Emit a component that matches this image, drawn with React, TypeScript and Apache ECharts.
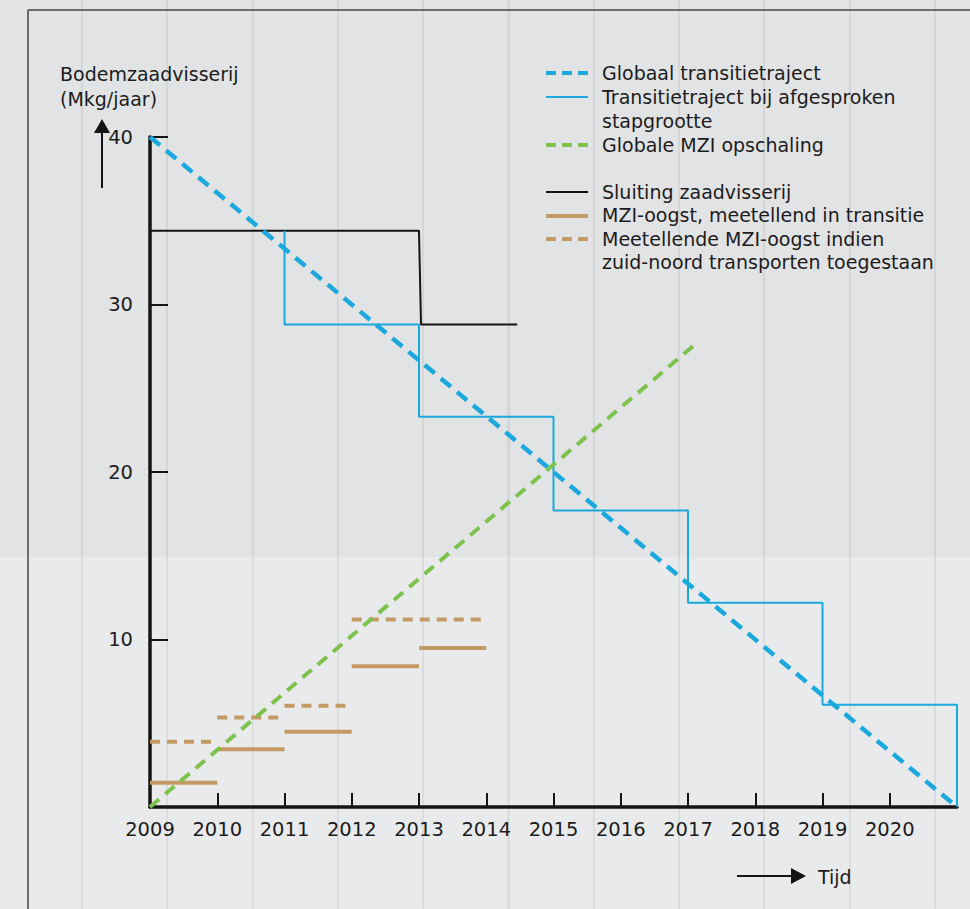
import React, { useEffect, useRef } from "react";
import * as echarts from "echarts";

// ---- data ----
const yearTicks = [2010, 2011, 2012, 2013, 2014, 2015, 2016, 2017, 2018, 2019, 2020];
const yearLabels = [2009, 2010, 2011, 2012, 2013, 2014, 2015, 2016, 2017, 2018, 2019, 2020];
const valueTicks = [10, 20, 30, 40];

const globalTrajectory = [[2009, 40], [2021, 0]];
const stepTrajectory = [
  [2011, 34.4], [2013, 28.8], [2015, 23.3], [2017, 17.7], [2019, 12.2], [2021, 6.1], [2021, 0],
];
const mziScaling = [[2009, 0], [2017.13, 27.7]];
const closure = [[2009, 34.4], [2013, 34.4], [2013.03, 28.8], [2014.46, 28.8]];

const harvestStart = [2009, 2010, 2011, 2012, 2013];
const harvestEnd = [2010, 2011, 2012, 2013, 2014];
const harvestValue = [1.45, 3.45, 4.5, 8.4, 9.5];

const transportStart = [2009, 2010, 2011, 2012];
const transportEnd = [2010, 2011, 2012, 2014];
const transportValue = [3.9, 5.35, 6.05, 11.2];

const legendGroup1 = [
  "Globaal transitietraject",
  "Transitietraject bij afgesproken",
  "stapgrootte",
  "Globale MZI opschaling",
];
const legendGroup2 = [
  "Sluiting zaadvisserij",
  "MZI-oogst, meetellend in transitie",
  "Meetellende MZI-oogst indien",
  "zuid-noord transporten toegestaan",
];

const BLUE = "#1ba8dc";
const GREEN = "#7cc24c";
const BROWN = "#c39a64";
const BLACK = "#141414";
const TEXT = "#1c1c1c";
const FONT = '"DejaVu Sans", "Open Sans", sans-serif';

export default function App() {
  const ref = useRef<HTMLDivElement>(null);

  useEffect(() => {
    if (!ref.current) return;
    const chart = echarts.init(ref.current, undefined, { renderer: "svg" });

    const seg = (name: string, a: number, b: number, v: number, dashed: boolean) => ({
      name,
      type: "line",
      data: [[a, v], [b, v]],
      symbol: "none",
      z: 3,
      lineStyle: { color: BROWN, width: 4, type: dashed ? [10, 7] : "solid", cap: "butt" },
    });

    const series: any[] = [
      ...harvestValue.map((v, i) => seg("MZI-oogst", harvestStart[i], harvestEnd[i], v, false)),
      ...transportValue.map((v, i) => seg("Meetellende MZI-oogst", transportStart[i], transportEnd[i], v, true)),
      {
        name: "Sluiting zaadvisserij",
        type: "line",
        data: closure,
        symbol: "none",
        z: 4,
        lineStyle: { color: BLACK, width: 2 },
      },
      {
        name: "Transitietraject bij afgesproken stapgrootte",
        type: "line",
        step: "start",
        data: stepTrajectory,
        symbol: "none",
        z: 5,
        lineStyle: { color: BLUE, width: 2 },
      },
      {
        name: "Globaal transitietraject",
        type: "line",
        data: globalTrajectory,
        symbol: "none",
        z: 6,
        lineStyle: { color: BLUE, width: 4.5, type: [13, 8], cap: "butt" },
      },
      {
        name: "Globale MZI opschaling",
        type: "line",
        data: mziScaling,
        symbol: "none",
        z: 7,
        lineStyle: { color: GREEN, width: 4, type: [12, 8], cap: "butt" },
      },
    ];

    const legendIconX1 = 546;
    const legendIconX2 = 588;
    const legendTextX = 602;
    const rowY = [73, 97, 121, 145, 192, 216, 239, 262];
    const icons: any[] = [
      { row: 0, color: BLUE, width: 4, dash: [10, 6] },
      { row: 1, color: BLUE, width: 2, dash: null },
      { row: 3, color: GREEN, width: 4, dash: [10, 6] },
      { row: 4, color: BLACK, width: 2, dash: null },
      { row: 5, color: BROWN, width: 4, dash: null },
      { row: 6, color: BROWN, width: 4, dash: [10, 6] },
    ];

    const graphic: any[] = [
      // frame
      { type: "line", z: 1, shape: { x1: 28, y1: 10, x2: 28, y2: 909 }, style: { stroke: "#444", lineWidth: 1.5 } },
      { type: "line", z: 1, shape: { x1: 28, y1: 10, x2: 970, y2: 10 }, style: { stroke: "#444", lineWidth: 1.5 } },
      // y axis title
      {
        type: "text",
        x: 60,
        y: 61,
        style: {
          text: "Bodemzaadvisserij\n(Mkg/jaar)",
          fontSize: 19,
          lineHeight: 25,
          fontFamily: FONT,
          fill: TEXT,
          verticalAlign: "top",
        },
      },
      // up arrow
      { type: "line", shape: { x1: 102, y1: 188, x2: 102, y2: 130 }, style: { stroke: BLACK, lineWidth: 2 } },
      { type: "polygon", shape: { points: [[102, 119], [94, 133], [110, 133]] }, style: { fill: BLACK } },
      // time arrow
      { type: "line", shape: { x1: 737, y1: 876, x2: 794, y2: 876 }, style: { stroke: BLACK, lineWidth: 2 } },
      { type: "polygon", shape: { points: [[806, 876], [791, 868], [791, 884]] }, style: { fill: BLACK } },
      { type: "text", x: 818, y: 877, style: { text: "Tijd", fontSize: 19, fontFamily: FONT, fill: TEXT, verticalAlign: "middle" } },
      // legend icons
      ...icons.map((ic) => ({
        type: "line",
        shape: { x1: legendIconX1, y1: rowY[ic.row], x2: legendIconX2, y2: rowY[ic.row] },
        style: { stroke: ic.color, lineWidth: ic.width, lineDash: ic.dash || undefined },
      })),
      // legend texts
      {
        type: "text",
        x: legendTextX,
        y: rowY[0] - 12,
        style: {
          text: legendGroup1.join("\n"),
          fontSize: 19,
          lineHeight: 24,
          fontFamily: FONT,
          fill: TEXT,
          verticalAlign: "top",
        },
      },
      {
        type: "text",
        x: legendTextX,
        y: rowY[4] - 11.7,
        style: {
          text: legendGroup2.join("\n"),
          fontSize: 19,
          lineHeight: 23.4,
          fontFamily: FONT,
          fill: TEXT,
          verticalAlign: "top",
        },
      },
    ];

    chart.setOption({
      animation: false,
      grid: { left: 150, right: 13, top: 137, bottom: 102, containLabel: false },
      xAxis: {
        type: "value",
        min: 2009,
        max: 2021,
        interval: 1,
        splitLine: { show: false },
        axisLine: { show: true, onZero: false, lineStyle: { color: BLACK, width: 3.5 } },
        axisTick: { show: true, inside: true, length: 14, lineStyle: { color: BLACK, width: 2 }, customValues: yearTicks },
        axisLabel: {
          customValues: yearLabels,
          formatter: (v: number) => String(v),
          fontSize: 19.5,
          fontFamily: FONT,
          color: TEXT,
          margin: 12,
        },
      },
      yAxis: {
        type: "value",
        min: 0,
        max: 40,
        interval: 10,
        splitLine: { show: false },
        axisLine: { show: true, onZero: false, lineStyle: { color: BLACK, width: 3.5 } },
        axisTick: { show: true, inside: true, length: 18, lineStyle: { color: BLACK, width: 2 }, customValues: valueTicks },
        axisLabel: {
          customValues: valueTicks,
          formatter: (v: number) => String(v),
          fontSize: 19.5,
          fontFamily: FONT,
          color: TEXT,
          margin: 17,
        },
      },
      series,
      graphic,
    });

    return () => chart.dispose();
  }, []);

  const bg =
    "repeating-linear-gradient(90deg, rgba(0,0,0,0) 0px, rgba(0,0,0,0) 81px, rgba(120,120,125,0.12) 81px, rgba(120,120,125,0.12) 83px, rgba(0,0,0,0) 83px, rgba(0,0,0,0) 85.3px)," +
    "linear-gradient(180deg, #e2e3e4 0px, #e2e3e4 557px, #e9eaeb 557px, #e9eaeb 909px)";

  return (
    <div
      ref={ref}
      style={{ position: "absolute", left: 0, top: 0, width: 970, height: 909, background: bg }}
    />
  );
}
